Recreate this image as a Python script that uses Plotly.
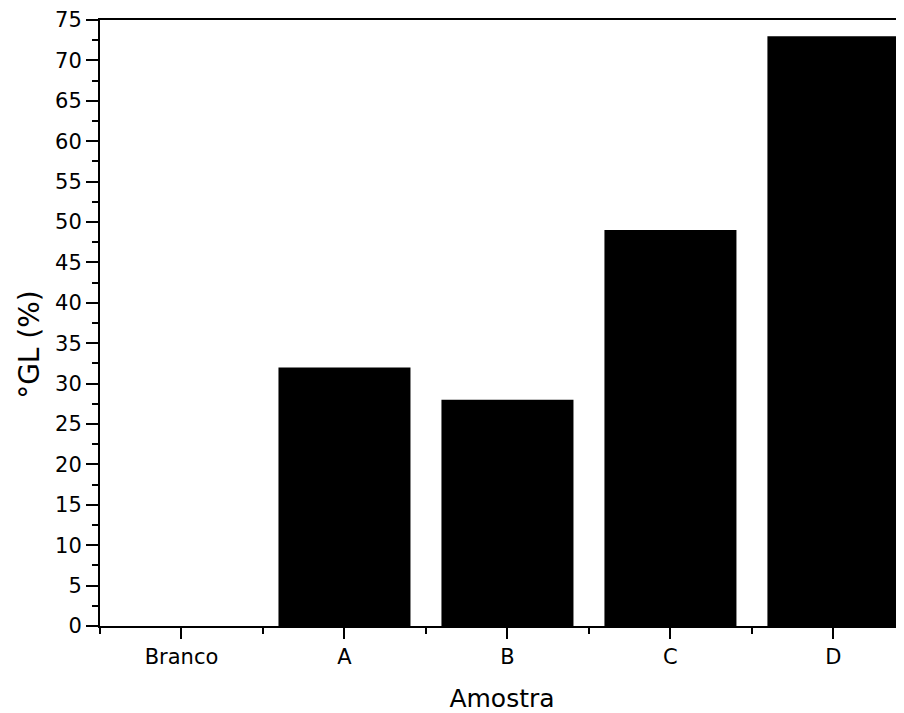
import plotly.graph_objects as go

categories = ["Branco", "A", "B", "C", "D"]
values = [0, 32, 28, 49, 73]
y_ticks = list(range(0, 80, 5))

x_pos = list(range(len(categories)))

fig = go.Figure()
fig.add_trace(go.Bar(
    x=x_pos, y=values, width=0.81,
    marker=dict(color="black", line=dict(width=0)),
))

font = "DejaVu Sans, sans-serif"
fig.update_layout(
    width=896, height=705,
    margin=dict(l=92, r=0, t=12, b=87),
    plot_bgcolor="white", paper_bgcolor="white",
    showlegend=False,
    font=dict(family=font, color="black"),
    xaxis=dict(
        range=[-0.5, 4.433],
        tickvals=x_pos, ticktext=categories,
        ticks="outside", ticklen=11, tickwidth=2, tickcolor="black",
        showline=True, linewidth=2, linecolor="black", mirror=True,
        showgrid=False, zeroline=False,
        tickfont=dict(size=21, family=font),
        minor=dict(tickmode="linear", tick0=-0.5, dtick=1, ticks="outside",
                   ticklen=6, tickwidth=2, tickcolor="black", showgrid=False),
        title=dict(text="Amostra", font=dict(size=25, family=font), standoff=24),
    ),
    yaxis=dict(
        range=[0, 75],
        tickvals=y_ticks,
        ticks="outside", ticklen=12, tickwidth=2, tickcolor="black",
        showline=True, linewidth=2, linecolor="black",
        showgrid=False, zeroline=False,
        tickfont=dict(size=21, family=font),
        minor=dict(tickmode="linear", tick0=2.5, dtick=5, ticks="outside",
                   ticklen=6, tickwidth=2, tickcolor="black", showgrid=False),
    ),
    annotations=[dict(
        text="°GL (%)", textangle=-90, showarrow=False,
        xref="paper", yref="paper", x=-0.087, y=0.464,
        xanchor="center", yanchor="middle",
        font=dict(size=28, family=font, color="black"),
    )],
)

fig.write_html("out.html")
